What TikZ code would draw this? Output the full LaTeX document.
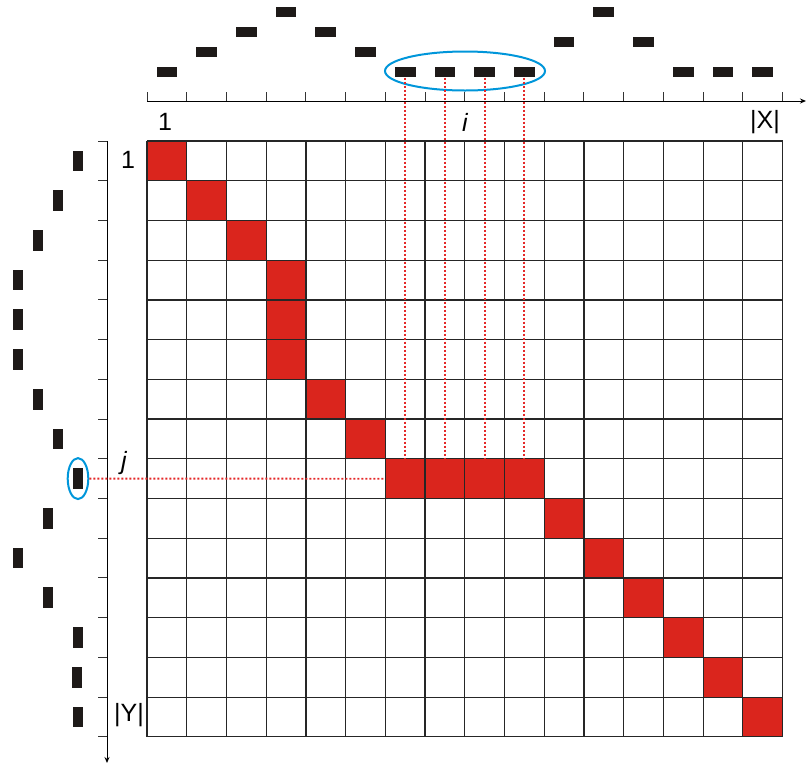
\documentclass[tikz,border=0pt]{standalone}
\usepackage{fontspec}
\setmainfont{Liberation Sans}
\usetikzlibrary{arrows.meta,shapes.geometric}
\definecolor{cellred}{RGB}{218,37,29}
\definecolor{ellblue}{RGB}{0,150,218}
\definecolor{barblack}{RGB}{30,26,24}
\definecolor{dotred}{RGB}{228,40,40}
\begin{document}
\begin{tikzpicture}[x=1pt,y=-1pt,
  hbar/.style={fill=barblack,inner sep=0pt,minimum width=20.7pt,minimum height=10.7pt},
  vbar/.style={fill=barblack,inner sep=0pt,minimum width=10.7pt,minimum height=20.7pt},
  cell/.style={fill=cellred,inner sep=0pt,minimum size=39.725pt},
  gridline/.style={draw=black!85,line width=1.2pt},
  axisline/.style={draw=black,line width=1pt},
  tickline/.style={draw=black!80,line width=1pt},
  ring/.style={draw=ellblue,line width=2pt,ellipse,inner sep=0pt},
  dotline/.style={draw=dotred,line width=1.8pt,dash pattern=on 2pt off 2pt},
  lab/.style={font=\fontsize{25}{29}\selectfont,inner sep=0pt}]
\useasboundingbox (0,0) rectangle (807,764);
% red cells
\foreach \c/\r in {1/1,2/2,3/3,4/4,4/5,4/6,5/7,6/8,7/9,8/9,9/9,10/9,11/10,12/11,13/12,14/13,15/14,16/15}
  \node[cell] (c\c-\r) at ({147+(\c-0.5)*39.725},{141+(\r-0.5)*39.725}) {};
% grid
\foreach \k in {0,...,16}
  \draw[gridline] ({147+\k*39.725},141) -- ({147+\k*39.725},736.9);
\foreach \k in {0,...,15}
  \draw[gridline] (147,{141+\k*39.725}) -- (782.6,{141+\k*39.725});
% top axis
\coordinate (xa0) at (147,101);
\coordinate (xa1) at (806,101);
\draw[axisline,-{Stealth[length=6pt,width=5pt]}] (xa0) -- (xa1);
\foreach \k in {0,...,16}
  \draw[tickline] ({147+\k*39.725},92) -- ({147+\k*39.725},101);
% left axis
\coordinate (ya0) at (107,141);
\coordinate (ya1) at (107,763);
\draw[axisline,-{Stealth[length=6pt,width=5pt]}] (ya0) -- (ya1);
\foreach \k in {0,...,15}
  \draw[tickline] (98,{141+\k*39.725}) -- (107,{141+\k*39.725});
% top bars
\foreach \c/\y in {1/72,2/52,3/32,4/12,5/32,6/52,7/72,8/72,9/72,10/72,11/42,12/12,13/42,14/72,15/72,16/72}
  \node[hbar] (t\c) at ({147+(\c-0.5)*39.725},\y) {};
% left bars
\foreach \r/\x in {1/78,2/58,3/38,4/18,5/18,6/18,7/38,8/58,9/78,10/48,11/18,12/48,13/78,14/77,15/78}
  \node[vbar] (l\r) at (\x,{141+(\r-0.5)*39.725}) {};
% ellipses
\node[ring,minimum width=160pt,minimum height=39pt] (ebig) at (465,71) {};
\node[ring,minimum width=20.6pt,minimum height=41pt] (esm) at (78,478.6) {};
% dotted connectors
\foreach \c in {7,...,10}
  \draw[dotline] (t\c.south) -- (c\c-9.north);
\draw[dotline] (esm.east) -- (c7-9.west);
% labels
\node[lab] (lx1) at (165,122) {1};
\node[lab] (lxi) at (465,122) {\itshape i};
\node[lab] (lxX) at (765,122) {|X|};
\node[lab] (ly1) at (128,160) {1};
\node[lab] (lyj) at (124,463) {\itshape j};
\node[lab] (lyY) at (129,715) {|Y|};
\end{tikzpicture}
\end{document}
